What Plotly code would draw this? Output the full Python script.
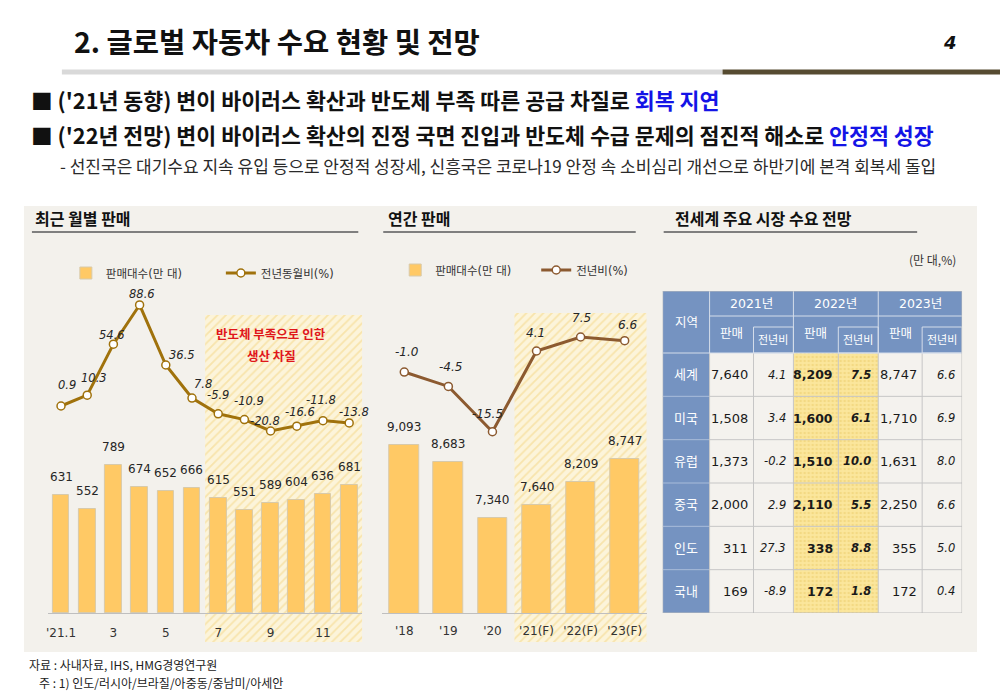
import plotly.graph_objects as go

W, H = 1000, 693
def px(x): return x / W
def py(y): return 1 - y / H

KR = "Noto Sans CJK KR"
NUM = "DejaVu Sans, Noto Sans CJK KR"

# ---------------- data ----------------
months = ["'21.1", "2", "3", "4", "5", "6", "7", "8", "9", "10", "11", "12"]
month_ticks_shown = ["'21.1", "3", "5", "7", "9", "11"]
monthly_sales = [631, 552, 789, 674, 652, 666, 615, 551, 589, 604, 636, 681]
monthly_yoy = [0.9, 10.3, 54.6, 88.6, 36.5, 7.8, -5.9, -10.9, -20.8, -16.6, -11.8, -13.8]
shortage_start = "7"

years = ["'18", "'19", "'20", "'21(F)", "'22(F)", "'23(F)"]
annual_sales = [9093, 8683, 7340, 7640, 8209, 8747]
annual_yoy = [-1.0, -4.5, -15.5, 4.1, 7.5, 6.6]
forecast_start = "'21(F)"

regions = ["세계", "미국", "유럽", "중국", "인도", "국내"]
table_years = ["2021년", "2022년", "2023년"]
sales_2021 = [7640, 1508, 1373, 2000, 311, 169]
yoy_2021 = [4.1, 3.4, -0.2, 2.9, 27.3, -8.9]
sales_2022 = [8209, 1600, 1510, 2110, 338, 172]
yoy_2022 = [7.5, 6.1, 10.0, 5.5, 8.8, 1.8]
sales_2023 = [8747, 1710, 1631, 2250, 355, 172]
yoy_2023 = [6.6, 6.9, 8.0, 6.6, 5.0, 0.4]
highlight_year = "2022년"

# ---------------- styles ----------------
BAR = "#FFC965"
BAR_LINE = "#D8CAAA"
LINE_M = "#A0720C"
LINE_A = "#8C5A30"
PANEL = "#F3F1EC"
BLUE = "#7593C1"
TXT = "#262626"

# label offsets (pixels) for line labels
m_dx = [6, 7, -1, 2, 16, 11, 0, 5, -6, 3, -2, 5]
m_dy = [21, 17, 9, 11, 10, 14, 19, 19, 10, 14, 21, 11]
a_dx = [3, 2, -5, -1, 1, 3]
a_dy = [20, 19, 18, 18, 19, 16]

fig = go.Figure()

# ---------- monthly chart ----------
mi = list(range(len(months)))
hs = months.index(shortage_start) - 0.5
he = len(months) - 0.5
fig.add_trace(go.Scatter(
    x=[hs, he, he, hs, hs], y=[0, 0, 1, 1, 0], xaxis="x", yaxis="y",
    mode="none", fill="toself", fillcolor="#F3D37C",
    fillpattern=dict(shape="/", fgcolor="#F3D37C", bgcolor="#FCF4DA", size=6, solidity=0.3),
    showlegend=False, hoverinfo="skip"))
fig.add_trace(go.Bar(
    x=mi, y=monthly_sales, xaxis="x2", yaxis="y2", width=0.64,
    marker=dict(color=BAR, line=dict(color=BAR_LINE, width=1)),
    name="판매대수(만 대)", legend="legend", hoverinfo="skip"))
fig.add_trace(go.Scatter(
    x=mi, y=monthly_yoy, xaxis="x2", yaxis="y3", mode="lines+markers",
    line=dict(color=LINE_M, width=3),
    marker=dict(size=8, color="white", line=dict(color=LINE_M, width=1.5)),
    name="전년동월비(%)", legend="legend", hoverinfo="skip"))

# ---------- annual chart ----------
ai = list(range(len(years)))
fs = years.index(forecast_start) - 0.5
fe = len(years) - 0.5
fig.add_trace(go.Scatter(
    x=[fs, fe, fe, fs, fs], y=[0, 0, 1, 1, 0], xaxis="x3", yaxis="y4",
    mode="none", fill="toself", fillcolor="#F3D37C",
    fillpattern=dict(shape="/", fgcolor="#F3D37C", bgcolor="#FCF4DA", size=6, solidity=0.3),
    showlegend=False, hoverinfo="skip"))
fig.add_trace(go.Bar(
    x=ai, y=annual_sales, xaxis="x4", yaxis="y5", width=0.665,
    marker=dict(color=BAR, line=dict(color=BAR_LINE, width=1)),
    name="판매대수(만 대)", legend="legend2", hoverinfo="skip"))
fig.add_trace(go.Scatter(
    x=ai, y=annual_yoy, xaxis="x4", yaxis="y6", mode="lines+markers",
    line=dict(color=LINE_A, width=3),
    marker=dict(size=8, color="white", line=dict(color=LINE_A, width=1.5)),
    name="전년비(%)", legend="legend2", hoverinfo="skip"))

# ---------- table geometry ----------
col_w = [47, 44, 40, 45, 40, 44, 40]
xe = [0]
for w in col_w:
    xe.append(xe[-1] + w)
row_h = 43.33
ye = [0, 25, 62] + [62 + (i + 1) * row_h for i in range(len(regions))]
sub_inset = 11

hg = table_years.index(highlight_year)
hx0, hx1 = xe[1 + 2 * hg], xe[3 + 2 * hg]
fig.add_trace(go.Scatter(
    x=[hx0, hx1, hx1, hx0, hx0], y=[ye[2], ye[2], ye[-1], ye[-1], ye[2]],
    xaxis="x5", yaxis="y7", mode="none", fill="toself", fillcolor="#F2D474",
    fillpattern=dict(shape=".", fgcolor="#EBCB6A", bgcolor="#FBE69C", size=4, solidity=0.35),
    showlegend=False, hoverinfo="skip"))

shapes = []
ann = []

# panel background
shapes.append(dict(type="rect", xref="paper", yref="paper", x0=px(22), x1=px(977),
                   y0=py(652), y1=py(206), fillcolor=PANEL, line=dict(width=0), layer="below"))
# header rules
shapes.append(dict(type="line", xref="paper", yref="paper", x0=px(60), x1=px(722),
                   y0=py(72), y1=py(72), line=dict(color="#D9D9D9", width=5)))
shapes.append(dict(type="line", xref="paper", yref="paper", x0=px(722), x1=px(1000),
                   y0=py(72), y1=py(72), line=dict(color="#564B31", width=5)))
# section underlines
for x0, x1 in [(30, 357), (382, 635), (663, 917)]:
    shapes.append(dict(type="line", xref="paper", yref="paper", x0=px(x0), x1=px(x1),
                       y0=py(232), y1=py(232), line=dict(color="#7F7F7F", width=2)))

# table cells
def trect(x0, x1, y0, y1, fill=None, line=None, layer="below"):
    d = dict(type="rect", xref="x5", yref="y7", x0=x0, x1=x1, y0=y0, y1=y1, layer=layer)
    d["fillcolor"] = fill if fill else "rgba(0,0,0,0)"
    d["line"] = line if line else dict(width=0)
    return d

def tline(x0, x1, y0, y1, color, width=1):
    return dict(type="line", xref="x5", yref="y7", x0=x0, x1=x1, y0=y0, y1=y1,
                line=dict(color=color, width=width), layer="above")

shapes.append(trect(0, xe[-1], 0, ye[2], fill=BLUE))
shapes.append(trect(0, xe[1], ye[2], ye[-1], fill=BLUE))
shapes.append(trect(xe[1], xe[-1], ye[2], ye[-1], fill="#F4F2EE"))

GRID = "#C6C6C6"
HGRID = "#D5DDEA"
for k in range(3, len(ye) - 1):
    shapes.append(tline(xe[1], xe[-1], ye[k], ye[k], GRID))
    shapes.append(tline(0, xe[1], ye[k], ye[k], "#A9BCDA"))
for c in range(1, len(xe) - 1):
    shapes.append(tline(xe[c], xe[c], ye[2], ye[-1], GRID))
shapes.append(tline(0, xe[-1], ye[2], ye[2], HGRID))
shapes.append(tline(xe[1], xe[1], 0, ye[2], HGRID))
for g in range(1, len(table_years)):
    shapes.append(tline(xe[1 + 2 * g], xe[1 + 2 * g], 0, ye[2], HGRID))
shapes.append(tline(xe[1], xe[-1], ye[1], ye[1], HGRID))
for g in range(len(table_years)):
    shapes.append(dict(type="rect", xref="x5", yref="y7", x0=xe[2 + 2 * g], x1=xe[3 + 2 * g],
                       y0=ye[1] + sub_inset, y1=ye[2], line=dict(color=HGRID, width=1),
                       fillcolor="rgba(0,0,0,0)", layer="above"))
shapes.append(dict(type="rect", xref="x5", yref="y7", x0=0, x1=xe[-1], y0=0, y1=ye[-1],
                   line=dict(color="#BDBDBD", width=1), fillcolor="rgba(0,0,0,0)", layer="above"))

# table text
def tann(x, y, text, size, color="white", xanchor="center", family=NUM, weight="normal"):
    ann.append(dict(x=x, y=y, xref="x5", yref="y7", text=text, showarrow=False,
                    xanchor=xanchor, yanchor="middle",
                    font=dict(family=family, size=size, color=color, weight=weight)))

tann(xe[1] / 2, ye[2] / 2, "지역", 12.5)
for g, yr in enumerate(table_years):
    tann((xe[1 + 2 * g] + xe[3 + 2 * g]) / 2, ye[1] / 2, yr, 12.5)
    tann((xe[1 + 2 * g] + xe[2 + 2 * g]) / 2, ye[1] + 17, "판매", 12.5)
    tann((xe[2 + 2 * g] + xe[3 + 2 * g]) / 2, ye[1] + sub_inset + (ye[2] - ye[1] - sub_inset) / 2,
         "전년비", 11)

sales_cols = [sales_2021, sales_2022, sales_2023]
yoy_cols = [yoy_2021, yoy_2022, yoy_2023]
for r, reg in enumerate(regions):
    yc = (ye[2 + r] + ye[3 + r]) / 2
    tann(xe[1] / 2, yc, reg, 13)
    for g in range(len(table_years)):
        bold = (g == hg)
        s = sales_cols[g][r]
        v = yoy_cols[g][r]
        tann(xe[2 + 2 * g] - 3, yc, f"{s:,}", 13 if not bold else 12.5, color="#1A1A1A",
             xanchor="right", weight="bold" if bold else "normal")
        t = f"<i>{v:.1f}</i>"
        tann(xe[3 + 2 * g] - 5, yc, t, 11.5, color="#1A1A1A", xanchor="right",
             weight="bold" if bold else "normal")

# bar labels and line labels
for i, v in enumerate(monthly_sales):
    ann.append(dict(x=i, y=v, xref="x2", yref="y2", text=f"{v:,}", showarrow=False,
                    yanchor="bottom", yshift=9, font=dict(family=NUM, size=12, color=TXT)))
for i, v in enumerate(monthly_yoy):
    ann.append(dict(x=i, y=v, xref="x2", yref="y3", text=f"<i>{v:.1f}</i>", showarrow=False,
                    xshift=m_dx[i], yshift=m_dy[i], font=dict(family=NUM, size=11.5, color=TXT)))
for i, v in enumerate(annual_sales):
    ann.append(dict(x=i, y=v, xref="x4", yref="y5", text=f"{v:,}", showarrow=False,
                    yanchor="bottom", yshift=9, font=dict(family=NUM, size=12, color=TXT)))
for i, v in enumerate(annual_yoy):
    ann.append(dict(x=i, y=v, xref="x4", yref="y6", text=f"<i>{v:.1f}</i>", showarrow=False,
                    xshift=a_dx[i], yshift=a_dy[i], font=dict(family=NUM, size=12, color=TXT)))

# page texts
def pann(x, y, text, size, color="#111", xanchor="left", weight="normal", family=KR):
    ann.append(dict(x=px(x), y=py(y), xref="paper", yref="paper", text=text, showarrow=False,
                    xanchor=xanchor, yanchor="middle",
                    font=dict(family=family, size=size, color=color, weight=weight)))

pann(70, 40, "2. 글로벌 자동차 수요 현황 및 전망", 28.5, weight="bold")
pann(950, 43, "<i>4</i>", 18, xanchor="center", weight="bold", family="DejaVu Sans")
pann(27, 100, "■ ('21년 동향) 변이 바이러스 확산과 반도체 부족 따른 공급 차질로 "
     "<span style='color:#1414E6'>회복 지연</span>", 21.7, weight="bold")
pann(27, 135, "■ ('22년 전망) 변이 바이러스 확산의 진정 국면 진입과 반도체 수급 문제의 점진적 해소로 "
     "<span style='color:#1414E6'>안정적 성장</span>", 21.7, weight="bold")
pann(56, 166, "- 선진국은 대기수요 지속 유입 등으로 안정적 성장세, 신흥국은 코로나19 안정 속 "
     "소비심리 개선으로 하반기에 본격 회복세 돌입", 17, color="#2A2A2A")
pann(31, 218, "최근 월별 판매", 16, weight="bold")
pann(385, 218, "연간 판매", 16, weight="bold")
pann(672, 218, "전세계 주요 시장 수요 전망", 16, weight="bold")
pann(958, 259, "(만 대,%)", 12, color="#333", xanchor="right")
pann(270, 333, "반도체 부족으로 인한", 12.5, color="#E0161B", xanchor="center", weight="bold")
pann(270, 355, "생산 차질", 12.5, color="#E0161B", xanchor="center", weight="bold")
pann(25, 664, "자료 : 사내자료, IHS, HMG경영연구원", 12, color="#222")
pann(35, 682, "주 : 1) 인도/러시아/브라질/아중동/중남미/아세안", 12, color="#222")

m_tickvals = [months.index(t) for t in month_ticks_shown]
dom_m = [px(46), px(361)]
dom_a = [px(381), px(646)]
dom_t = [px(662), px(962)]

hidden = dict(visible=False, showgrid=False, zeroline=False, fixedrange=True)

fig.update_layout(
    width=W, height=H, autosize=False,
    margin=dict(l=0, r=0, t=0, b=0),
    paper_bgcolor="white", plot_bgcolor="rgba(0,0,0,0)",
    showlegend=True, bargap=0,
    xaxis=dict(domain=dom_m, range=[-0.5, len(months) - 0.5], anchor="y", **hidden),
    yaxis=dict(domain=[py(642), py(315)], range=[0, 1], anchor="x", **hidden),
    xaxis2=dict(domain=dom_m, range=[-0.5, len(months) - 0.5], anchor="y2",
                tickmode="array", tickvals=m_tickvals, ticktext=month_ticks_shown,
                showline=True, linecolor="#BFBFBF", linewidth=1, ticks="",
                showgrid=False, zeroline=False, ticklabelstandoff=9,
                tickfont=dict(family=NUM, size=12, color="#333")),
    yaxis2=dict(domain=[py(613), py(240)], range=[0, 373 / 0.1876], anchor="x2", **hidden),
    yaxis3=dict(overlaying="y2", anchor="x2", range=[0.9 - 207 / 1.152, 0.9 + 166 / 1.152],
                visible=False, showgrid=False, zeroline=False),
    xaxis3=dict(domain=dom_a, range=[-0.5, len(years) - 0.5], anchor="y4", **hidden),
    yaxis4=dict(domain=[py(642), py(313)], range=[0, 1], anchor="x3", **hidden),
    xaxis4=dict(domain=dom_a, range=[-0.5, len(years) - 0.5], anchor="y5",
                tickmode="array", tickvals=ai, ticktext=years,
                showline=True, linecolor="#BFBFBF", linewidth=1, ticks="",
                showgrid=False, zeroline=False, ticklabelstandoff=7,
                tickfont=dict(family=NUM, size=12, color="#333")),
    yaxis5=dict(domain=[py(613), py(240)], range=[5055, 5055 + 373 / 0.0416], anchor="x4", **hidden),
    yaxis6=dict(overlaying="y5", anchor="x4", range=[-(613 - 367.9) / 4.12, (367.9 - 240) / 4.12],
                visible=False, showgrid=False, zeroline=False),
    xaxis5=dict(domain=dom_t, range=[0, xe[-1]], anchor="y7", **hidden),
    yaxis7=dict(domain=[py(613), py(291)], range=[ye[-1], 0], anchor="x5", **hidden),
    legend=dict(orientation="h", x=px(64), y=py(273), xanchor="left", yanchor="middle",
                bgcolor="rgba(0,0,0,0)", font=dict(family=NUM, size=11.5, color="#333"),
                entrywidth=110, entrywidthmode="pixels", itemwidth=30, traceorder="normal"),
    legend2=dict(orientation="h", x=px(394), y=py(270), xanchor="left", yanchor="middle",
                 bgcolor="rgba(0,0,0,0)", font=dict(family=NUM, size=11.5, color="#333"),
                 entrywidth=96, entrywidthmode="pixels", itemwidth=30, traceorder="normal"),
    shapes=shapes, annotations=ann,
)

fig.write_html("out.html")
